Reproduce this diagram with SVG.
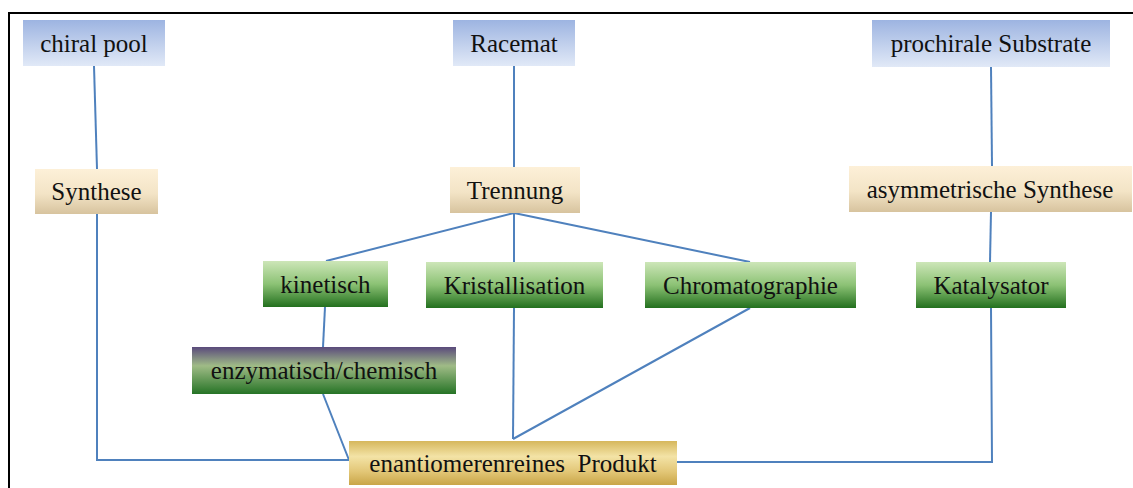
<svg xmlns="http://www.w3.org/2000/svg" width="1133" height="488" viewBox="0 0 1133 488">
<style>
text{font-family:"Liberation Serif","DejaVu Serif",serif;font-size:25px;fill:#111;text-anchor:middle}
.c{stroke:#4f81bd;stroke-width:2;fill:none}
</style>
<defs>
<linearGradient id="gBlue" x1="0" y1="0" x2="0" y2="1"><stop offset="0" stop-color="#9db4e1"/><stop offset="1" stop-color="#e1e9f7"/></linearGradient>
<linearGradient id="gTan" x1="0" y1="0" x2="0" y2="1"><stop offset="0" stop-color="#fdf0d8"/><stop offset="0.55" stop-color="#f3e4c6"/><stop offset="1" stop-color="#d7c39e"/></linearGradient>
<linearGradient id="gGreen" x1="0" y1="0" x2="0" y2="1"><stop offset="0" stop-color="#cde6b8"/><stop offset="0.5" stop-color="#8cc275"/><stop offset="1" stop-color="#23701e"/></linearGradient>
<linearGradient id="gPurple" x1="0" y1="0" x2="0" y2="1"><stop offset="0" stop-color="#5a4a7c"/><stop offset="0.4" stop-color="#9fbb86"/><stop offset="1" stop-color="#267426"/></linearGradient>
<linearGradient id="gGold" x1="0" y1="0" x2="0" y2="1"><stop offset="0" stop-color="#d6b75c"/><stop offset="0.35" stop-color="#f3e3a6"/><stop offset="0.7" stop-color="#e2c676"/><stop offset="1" stop-color="#c9a548"/></linearGradient>
</defs>
<rect width="1133" height="488" fill="#fff"/>
<path d="M9,488 V13 H1133" stroke="#000" stroke-width="2" fill="none"/>
<g id="connectors">
<line class="c" x1="94" y1="66" x2="97" y2="169"/>
<polyline class="c" points="97,214 97,460 349,460"/>
<line class="c" x1="514" y1="66" x2="514" y2="167"/>
<line class="c" x1="514" y1="213" x2="326" y2="261"/>
<line class="c" x1="514" y1="213" x2="514" y2="262"/>
<line class="c" x1="514" y1="213" x2="750" y2="262"/>
<line class="c" x1="325" y1="307" x2="323" y2="347"/>
<line class="c" x1="323" y1="394" x2="349" y2="460"/>
<line class="c" x1="514" y1="308" x2="513" y2="439"/>
<line class="c" x1="750" y1="308" x2="513" y2="439"/>
<line class="c" x1="991" y1="67" x2="992" y2="166"/>
<line class="c" x1="991" y1="212" x2="990" y2="262"/>
<polyline class="c" points="991,308 992,462 677,462"/>
</g>
<g id="chiral-pool"><rect x="23" y="20" width="142" height="46" fill="url(#gBlue)"/><text x="94" y="52">chiral pool</text></g>
<g id="racemat"><rect x="453" y="20" width="122" height="46" fill="url(#gBlue)"/><text x="514" y="52">Racemat</text></g>
<g id="prochirale-substrate"><rect x="872" y="20" width="238" height="47" fill="url(#gBlue)"/><text x="991" y="52">prochirale Substrate</text></g>
<g id="synthese"><rect x="35" y="169" width="123" height="45" fill="url(#gTan)"/><text x="96.5" y="200">Synthese</text></g>
<g id="trennung"><rect x="450" y="167" width="130" height="46" fill="url(#gTan)"/><text x="515" y="199">Trennung</text></g>
<g id="asymmetrische-synthese"><rect x="849" y="166" width="283" height="46" fill="url(#gTan)"/><text x="990" y="198">asymmetrische Synthese</text></g>
<g id="kinetisch"><rect x="263" y="261" width="125" height="46" fill="url(#gGreen)"/><text x="325.5" y="293">kinetisch</text></g>
<g id="kristallisation"><rect x="426" y="262" width="177" height="46" fill="url(#gGreen)"/><text x="514.5" y="294">Kristallisation</text></g>
<g id="chromatographie"><rect x="645" y="262" width="211" height="46" fill="url(#gGreen)"/><text x="750.5" y="294">Chromatographie</text></g>
<g id="katalysator"><rect x="916" y="262" width="150" height="46" fill="url(#gGreen)"/><text x="991" y="294">Katalysator</text></g>
<g id="enzymatisch-chemisch"><rect x="192" y="347" width="264" height="47" fill="url(#gPurple)"/><text x="324" y="379">enzymatisch/chemisch</text></g>
<g id="produkt"><rect x="349" y="441" width="328" height="44" fill="url(#gGold)"/><text x="513" y="472" xml:space="preserve">enantiomerenreines  Produkt</text></g>
</svg>
